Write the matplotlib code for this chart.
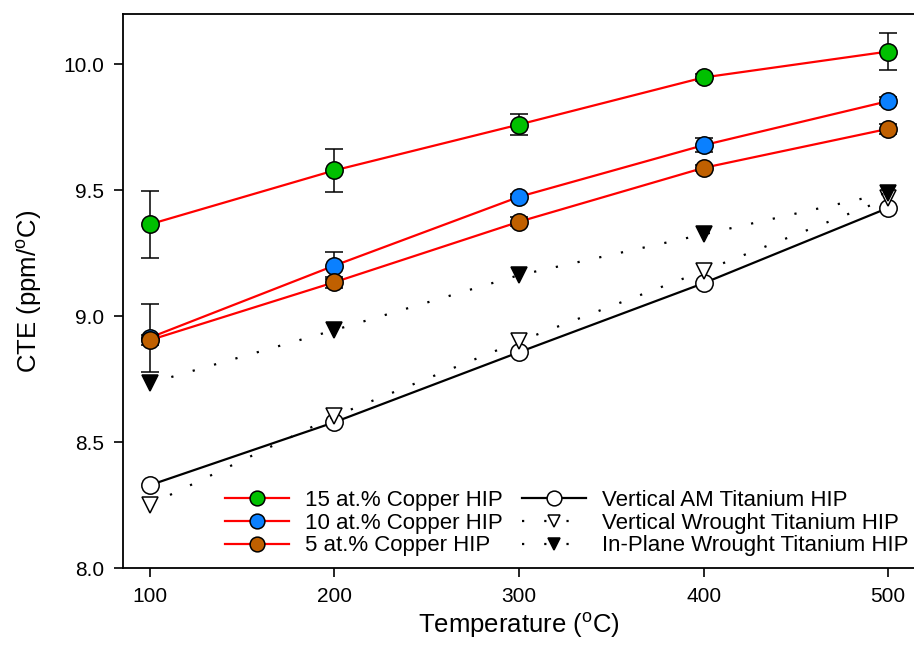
import matplotlib

matplotlib.use("Agg")
import matplotlib.pyplot as plt

plt.rcParams["font.family"] = ["Liberation Sans", "DejaVu Sans"]
plt.rcParams["mathtext.default"] = "regular"

# temperatures (deg C)
temps = [100, 200, 300, 400, 500]

# copper alloys, HIP (mean and error)
cu15 = [9.365, 9.579, 9.761, 9.948, 10.051]
cu15_err = [0.133, 0.085, 0.042, 0.015, 0.072]
cu10 = [8.915, 9.201, 9.474, 9.679, 9.854]
cu10_err = [0.135, 0.053, 0.012, 0.027, 0.017]
cu5 = [8.905, 9.135, 9.375, 9.589, 9.744]
cu5_err = [0.02, 0.022, 0.017, 0.012, 0.02]

# titanium references
am_ti = [8.329, 8.579, 8.857, 9.131, 9.430]
wr_ti_vert = [8.252, 8.603, 8.900, 9.180, 9.468]
wr_ti_inplane = [8.734, 8.945, 9.163, 9.325, 9.490]

copper_series = [
    ("15 at.% Copper HIP", cu15, cu15_err, "#00c000"),
    ("10 at.% Copper HIP", cu10, cu10_err, "#0a80ff"),
    ("5 at.% Copper HIP", cu5, cu5_err, "#c06000"),
]

fig = plt.figure(figsize=(9.14, 6.65), dpi=100)
ax = fig.add_axes([123 / 914, 1 - 568 / 665, 1 - 123 / 914, (568 - 14) / 665])

handles = []
for label, vals, errs, color in copper_series:
    ax.errorbar(temps, vals, yerr=errs, fmt="none", ecolor="black",
                elinewidth=1.1, capsize=6.5, capthick=1.1, zorder=3)
    (h,) = ax.plot(temps, vals, color="red", lw=1.6, marker="o", ms=12.5,
                   mfc=color, mec="black", mew=1.1, label=label, zorder=4)
    handles.append(h)

dotted = (0, (1, 9))
(h_am,) = ax.plot(temps, am_ti, color="black", lw=1.6, marker="o", ms=12.5,
                  mfc="white", mec="black", mew=1.1,
                  label="Vertical AM Titanium HIP", zorder=4)
(h_wv,) = ax.plot(temps, wr_ti_vert, color="black", lw=1.6, ls=dotted,
                  marker="v", ms=11, mfc="white", mec="black", mew=1.1,
                  label="Vertical Wrought Titanium HIP", zorder=4)
(h_wi,) = ax.plot(temps, wr_ti_inplane, color="black", lw=1.6, ls=dotted,
                  marker="v", ms=11, mfc="black", mec="black", mew=1.1,
                  label="In-Plane Wrought Titanium HIP", zorder=4)
handles += [h_am, h_wv, h_wi]

ax.set_xlim(85.4, 514)
ax.set_ylim(8.0, 10.2)
ax.set_xticks(temps)
ax.set_yticks([8.0, 8.5, 9.0, 9.5, 10.0])
ax.set_yticklabels(["8.0", "8.5", "9.0", "9.5", "10.0"])
ax.tick_params(direction="out", length=6.5, width=1.2, labelsize=15, pad=7)
for side in ["left", "bottom", "top"]:
    ax.spines[side].set_linewidth(1.3)
ax.spines["right"].set_visible(False)

ax.set_xlabel("Temperature ($^{o}$C)", fontsize=18.5, labelpad=4)
ax.set_ylabel("CTE (ppm/$^{o}$C)", fontsize=18.5, labelpad=14)

ax.legend(handles=handles, ncol=2, frameon=False, loc="lower right",
          bbox_to_anchor=(1.013, -0.007), fontsize=16, handlelength=2.9,
          handletextpad=0.72, labelspacing=0.08, columnspacing=0.85,
          borderaxespad=0.3, markerscale=0.85)

fig.savefig("out.png", dpi=100)
